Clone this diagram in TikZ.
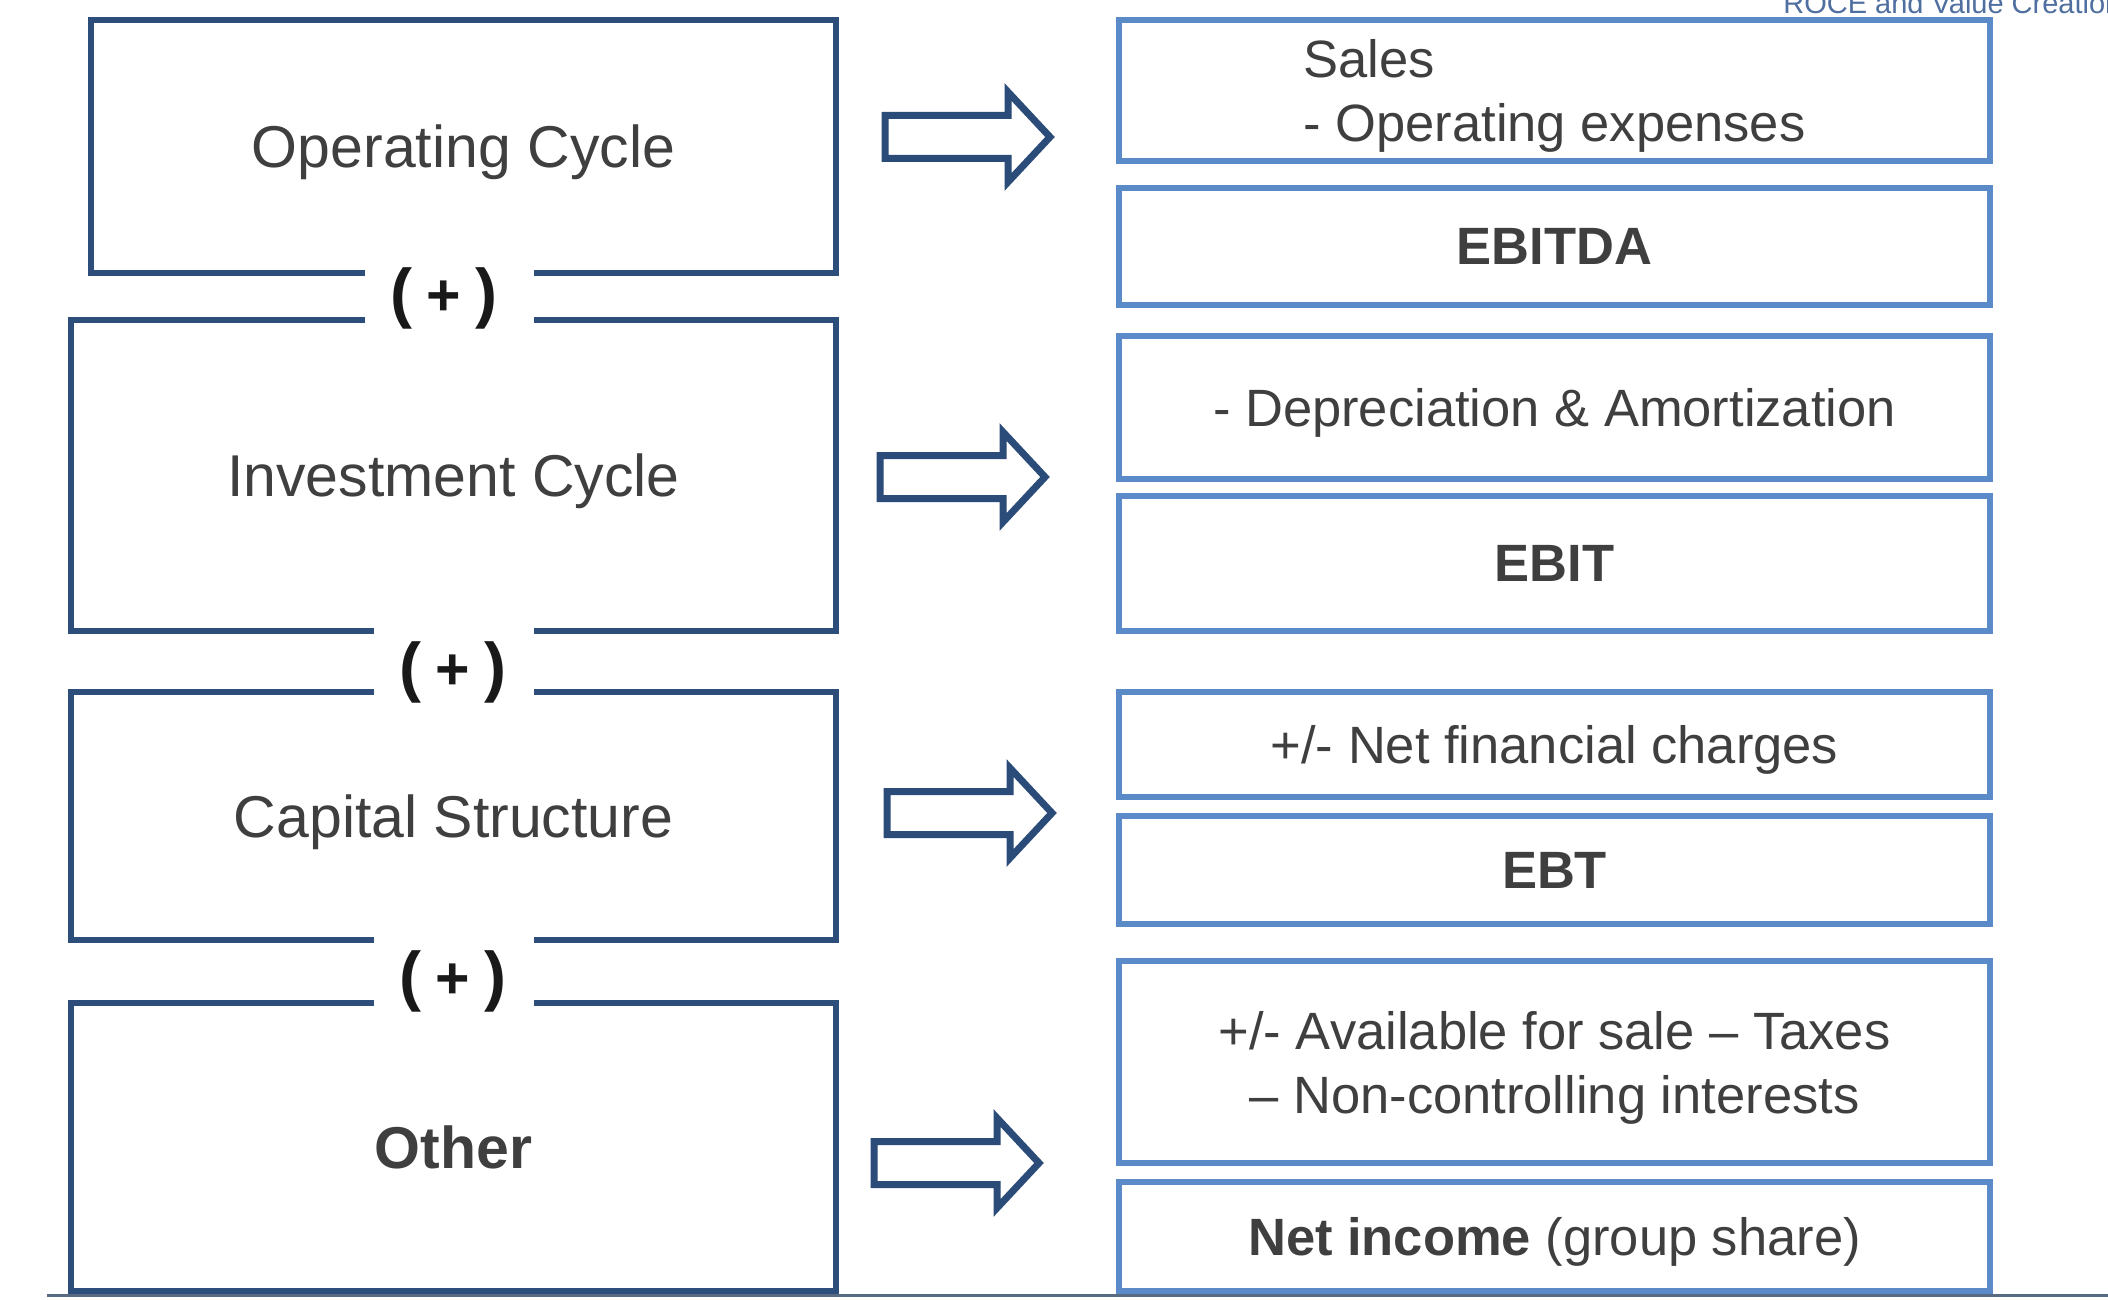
\documentclass[tikz,border=0pt]{standalone}
\usepackage{fontspec}
\setmainfont{Liberation Sans}
\definecolor{leftblue}{HTML}{2D4D7B}
\definecolor{rightblue}{HTML}{5B8AC8}
\definecolor{arrowblue}{HTML}{2B4B78}
\definecolor{txt}{HTML}{3F3F3F}
\definecolor{titleblue}{HTML}{4F6FA0}
\definecolor{rulecol}{HTML}{5A6A80}
\tikzset{
  leftbox/.style={draw=none, fill=white, text=txt, inner sep=0pt,
    text depth=0pt, font=\fontsize{29.5}{35}\selectfont},
  leftedge/.style={draw=leftblue, line width=3pt, line join=miter},
  rightbox/.style={draw=rightblue, line width=3pt, fill=white, text=txt, inner sep=0pt,
    text depth=0pt, minimum width=435.5pt, align=center, font=\fontsize{26.25}{32}\selectfont},
  plusnode/.style={inner sep=0pt, text=black!90, font=\fontsize{29.5}{30}\selectfont\bfseries},
  blockarrow/.style={draw=arrowblue, line width=3.5pt, line join=miter, fill=white},
}
\newcommand\plustext{{\fontsize{33}{33}\selectfont(}\hspace{0.25em}+\hspace{0.25em}{\fontsize{33}{33}\selectfont)}}
\newcommand\blockarr[1]{\draw[blockarrow] (#1) ++(0,-21.5) -- ++(123,0) -- ++(0,-23.5) -- ++(42,45) -- ++(-42,45) -- ++(0,-23.5) -- ++(-123,0) -- cycle;}
\begin{document}
\begin{tikzpicture}[x=0.5pt,y=-0.5pt]
\useasboundingbox (0,0) rectangle (2108,1300);
\clip (0,0) rectangle (2108,1300);
\fill[white] (0,0) rectangle (2108,1300);

% title (cut at top, as in the reference)
\node[anchor=base west, inner sep=0pt, text=titleblue, font=\fontsize{14.5}{15}\selectfont] (title) at (1783,14) {ROCE and Value Creation};

% left boxes
\node[leftbox, minimum width=372.5pt, minimum height=126.5pt] (op) at (463.5,146.5) {Operating Cycle};
\node[leftbox, minimum width=382.5pt, minimum height=155.5pt] (inv) at (453.5,475.5) {Investment Cycle};
\node[leftbox, minimum width=382.5pt, minimum height=124pt] (cap) at (453.5,816) {Capital Structure};
\node[leftbox, minimum width=382.5pt, minimum height=144pt] (oth) at (453.5,1147) {\bfseries Other};

% gap limits
\coordinate (g1l) at (365,0);
\coordinate (g1r) at (534,0);
\coordinate (g2l) at (374,0);
\coordinate (g2r) at (534,0);
\coordinate (g3l) at (374,0);
\coordinate (g3r) at (534,0);

% left box outlines with gaps
\draw[leftedge] (g1l |- op.south) -- (op.south west) -- (op.north west) -- (op.north east) -- (op.south east) -- (g1r |- op.south);
\draw[leftedge] (g1l |- inv.north) -- (inv.north west) -- (inv.south west) -- (g2l |- inv.south);
\draw[leftedge] (g1r |- inv.north) -- (inv.north east) -- (inv.south east) -- (g2r |- inv.south);
\draw[leftedge] (g2l |- cap.north) -- (cap.north west) -- (cap.south west) -- (g3l |- cap.south);
\draw[leftedge] (g2r |- cap.north) -- (cap.north east) -- (cap.south east) -- (g3r |- cap.south);
\draw[leftedge] (g3l |- oth.north) -- (oth.north west) -- (oth.south west) -- (oth.south east) -- (oth.north east) -- (g3r |- oth.north);

% (+) labels
\node[plusnode] (plus1) at (444,298) {\plustext};
\node[plusnode] (plus2) at (453,672) {\plustext};
\node[plusnode] (plus3) at (453,981) {\plustext};

% right boxes
\node[rightbox, minimum height=70.5pt, align=left] (sales) at (1554.5,90.5) {Sales\\- Operating expenses};
\node[rightbox, minimum height=58.5pt] (ebitda) at (1554.5,246.5) {\bfseries EBITDA};
\node[rightbox, minimum height=71.5pt] (da) at (1554.5,407.5) {- Depreciation \& Amortization};
\node[rightbox, minimum height=67.5pt] (ebit) at (1554.5,563.5) {\bfseries EBIT};
\node[rightbox, minimum height=52.5pt] (nfc) at (1554.5,744.5) {+/- Net financial charges};
\node[rightbox, minimum height=54pt] (ebt) at (1554.5,870) {\bfseries EBT};
\node[rightbox, minimum height=101pt] (avail) at (1554.5,1062) {+/- Available for sale -- Taxes\\-- Non-controlling interests};
\node[rightbox, minimum height=54.5pt] (ni) at (1554.5,1236.5) {\textbf{Net income} (group share)};

% block arrows
\coordinate (a1) at (885,137);
\coordinate (a2) at (880,477);
\coordinate (a3) at (887,813);
\coordinate (a4) at (874,1163);
\blockarr{a1}
\blockarr{a2}
\blockarr{a3}
\blockarr{a4}

% bottom rule
\coordinate (bl) at (47,1295);
\coordinate (br) at (2108,1295);
\draw[rulecol, line width=1.5pt] (bl) -- (br);
\end{tikzpicture}
\end{document}
